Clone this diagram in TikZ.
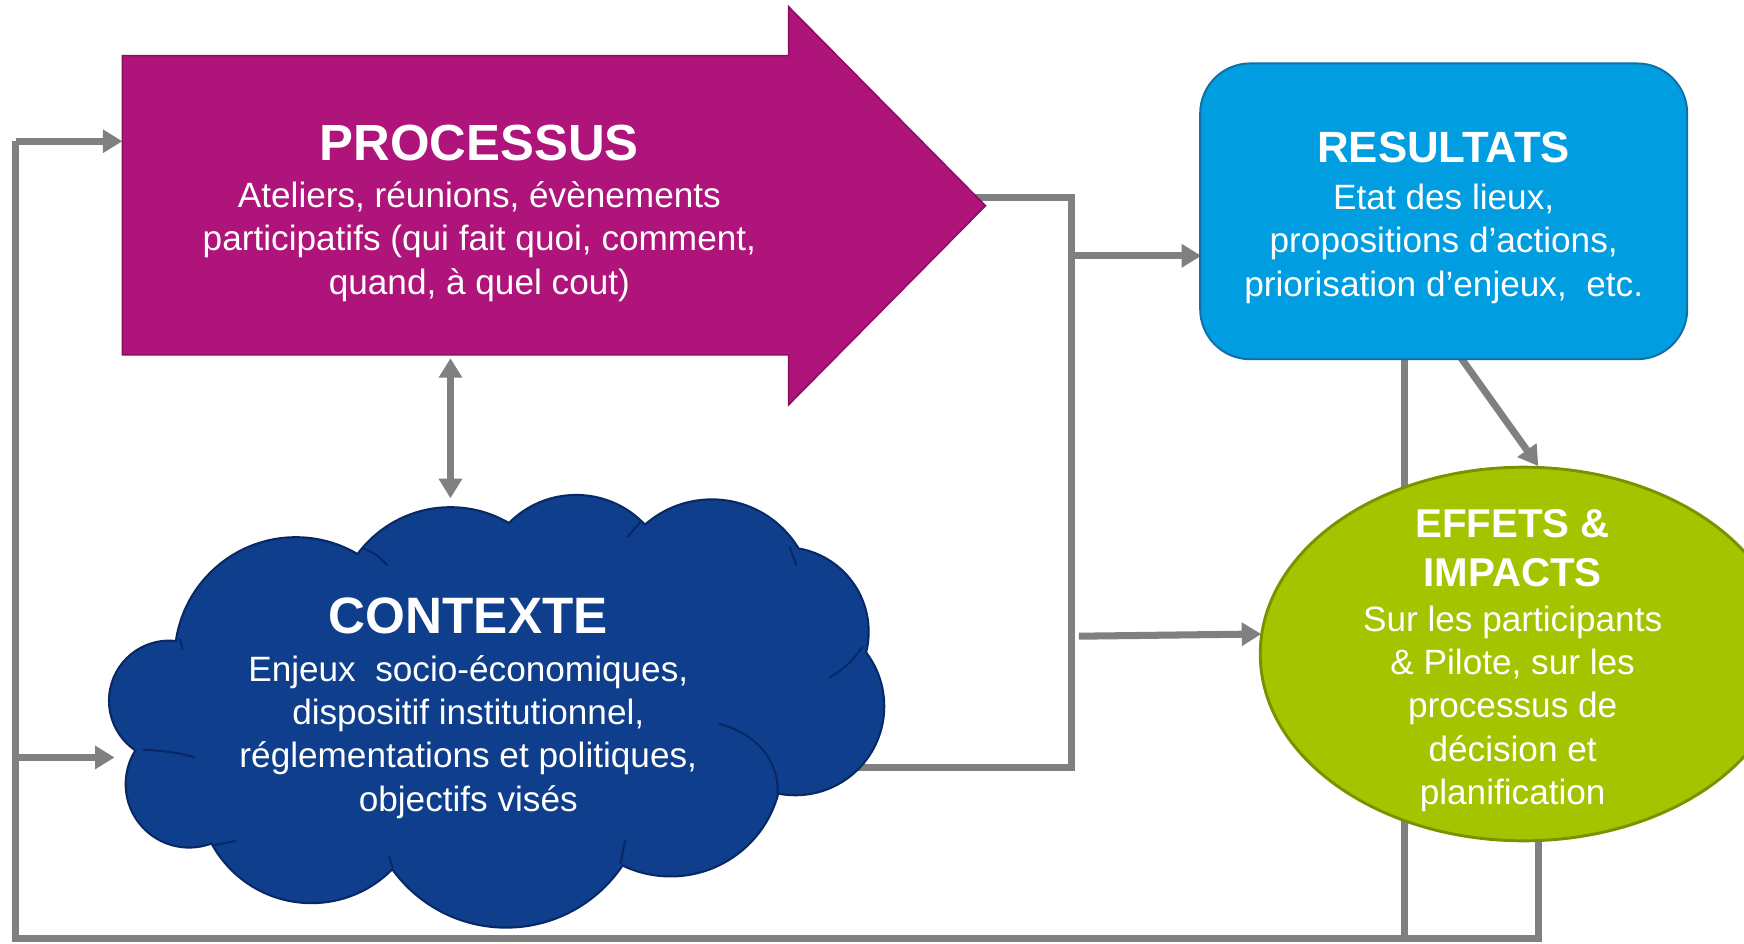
\documentclass[tikz,border=0pt]{standalone}
\usepackage{fontspec}
\setmainfont{Liberation Sans}
\usetikzlibrary{arrows.meta,shapes.geometric}
\definecolor{procfill}{RGB}{174,20,122}
\definecolor{procdraw}{RGB}{140,12,98}
\definecolor{resfill}{RGB}{0,157,224}
\definecolor{resdraw}{RGB}{18,110,165}
\definecolor{ctxfill}{RGB}{14,62,140}
\definecolor{ctxdraw}{RGB}{8,40,100}
\definecolor{efffill}{RGB}{164,196,0}
\definecolor{effdraw}{RGB}{118,148,0}
\definecolor{linegray}{RGB}{128,128,128}
\begin{document}
\begin{tikzpicture}[x=0.02cm,y=-0.02cm,
  conn/.style={draw=linegray,line width=3.6pt,line join=miter},
  >={Triangle[length=10pt,width=11.5pt]},
  txt/.style={text=white,align=center,inner sep=0pt,font=\fontsize{18}{22.2}\selectfont},
  ttl/.style={text=white,align=center,inner sep=0pt},
  puffline/.style={draw=ctxdraw,line width=1pt,line cap=round}]
\useasboundingbox (0,0) rectangle (1568,848);
\clip (0,0) rectangle (1568,848);

% ---------- coordinates ----------
\coordinate (pout) at (876,178);
\coordinate (j1) at (963,178);
\coordinate (j2) at (963,230);
\coordinate (j3) at (963,690);
\coordinate (ctxR) at (763,690);
\coordinate (resL) at (1080,230);
\coordinate (e1) at (970,572);
\coordinate (effL) at (1134,570);
\coordinate (pbot) at (405,322);
\coordinate (ctxT) at (405,448);
\coordinate (resB1) at (1263,323);
\coordinate (resB2) at (1313,321);
\coordinate (effT) at (1383,419);
\coordinate (effB) at (1383,752);
\coordinate (b1) at (1263,844);
\coordinate (b2) at (1383,844);
\coordinate (bl) at (14,844);
\coordinate (lt) at (14,127);
\coordinate (procL) at (110,127);
\coordinate (lm) at (14,681);
\coordinate (ctxL) at (103,681);

% ---------- connectors (behind shapes) ----------
\draw[conn] (pout) -- (j1) -- (j3) -- (ctxR);
\draw[conn,->] (j2) -- (resL);
\draw[conn,->] (e1) -- (effL);
\draw[conn,<->] (pbot) -- (ctxT);
\draw[conn,->] (resB2) -- (effT);
\draw[conn] (resB1) -- (b1);
\draw[conn] (effB) -- (b2) -- (bl) -- (lt);
\draw[conn,->] (lt) -- (procL);
\draw[conn,->] (lm) -- (ctxL);

% ---------- PROCESSUS arrow ----------
\draw[fill=procfill,draw=procdraw,line width=0.8pt,line join=miter]
  (110,50) -- (709,50) -- (709,6) -- (886,185) -- (709,364) -- (709,319) -- (110,319) -- cycle;
\node[ttl,font=\bfseries\fontsize{26}{30}\selectfont,anchor=base] (ptitle) at (431,144.5) {PROCESSUS};
\node[txt,anchor=north] (pbody) at (431,158.7)
  {\strut Ateliers, réunions, évènements\\participatifs (qui fait quoi, comment,\\quand, à quel cout)};

% ---------- RESULTATS ----------
\node[draw=resdraw,fill=resfill,line width=1pt,rounded corners=0.9cm,
  minimum width=8.76cm,minimum height=5.32cm,inner sep=0pt] (res) at (1298,190) {};
\node[ttl,font=\bfseries\fontsize{22.4}{26}\selectfont,anchor=base] (rtitle) at (1298,146) {RESULTATS};
\node[txt,anchor=north] (rbody) at (1298,160.7)
  {\strut Etat des lieux,\\propositions d’actions,\\priorisation d’enjeux,\ \ etc.};

% ---------- CONTEXTE cloud ----------
\def\ctxpuffs{(152,630) circle[radius=53] (266,592) circle[radius=108]
  (405,560) circle[radius=103] (518,530) circle[radius=84]
  (640,540) circle[radius=90] (705,568) circle[radius=75]
  (715,635) circle[radius=79] (603,688) circle[radius=99]
  (455,708) circle[radius=125] (280,710) circle[radius=101]
  (170,705) circle[radius=56] (445,640) ellipse[x radius=260,y radius=120]}
\path[fill=ctxfill,draw=ctxdraw,line width=2.2pt] \ctxpuffs;
\path[fill=ctxfill] \ctxpuffs;
% inner puff lines of the cloud
\draw[puffline] (327,493) to[bend left=12] (348,508);
\draw[puffline] (576,469) to (564,483);
\draw[puffline] (710,492) to (716,508);
\draw[puffline] (775,582) to[bend left=12] (746,609);
\draw[puffline] (699,713) .. controls (701,688) and (683,660) .. (647,651);
\draw[puffline] (558,776) to (562,756);
\draw[puffline] (353,780) to (350,770);
\draw[puffline] (192,760) to (212,756);
\draw[puffline] (129,674) .. controls (148,675) and (162,677) .. (175,681);
\draw[puffline] (162,575) to (164,584);
\node[ttl,font=\bfseries\fontsize{26.2}{30}\selectfont,anchor=base] (ctitle) at (421,569.5) {CONTEXTE};
\node[txt,anchor=north] (cbody) at (421,584.7)
  {\strut Enjeux\ \ socio-économiques,\\dispositif institutionnel,\\réglementations et politiques,\\objectifs visés};

% ---------- EFFETS ellipse ----------
\node[ellipse,draw=effdraw,fill=efffill,line width=1.5pt,
  minimum width=9.48cm,minimum height=6.72cm,inner sep=0pt] (eff) at (1370,588) {};
\node[ttl,font=\bfseries\fontsize{20.6}{25}\selectfont,anchor=north] (etitle) at (1360,452)
  {\strut EFFETS \&\\IMPACTS};
\node[txt,anchor=north] (ebody) at (1360,539.7)
  {\strut Sur les participants\\\& Pilote, sur les\\processus de\\décision et\\planification};
\end{tikzpicture}
\end{document}
